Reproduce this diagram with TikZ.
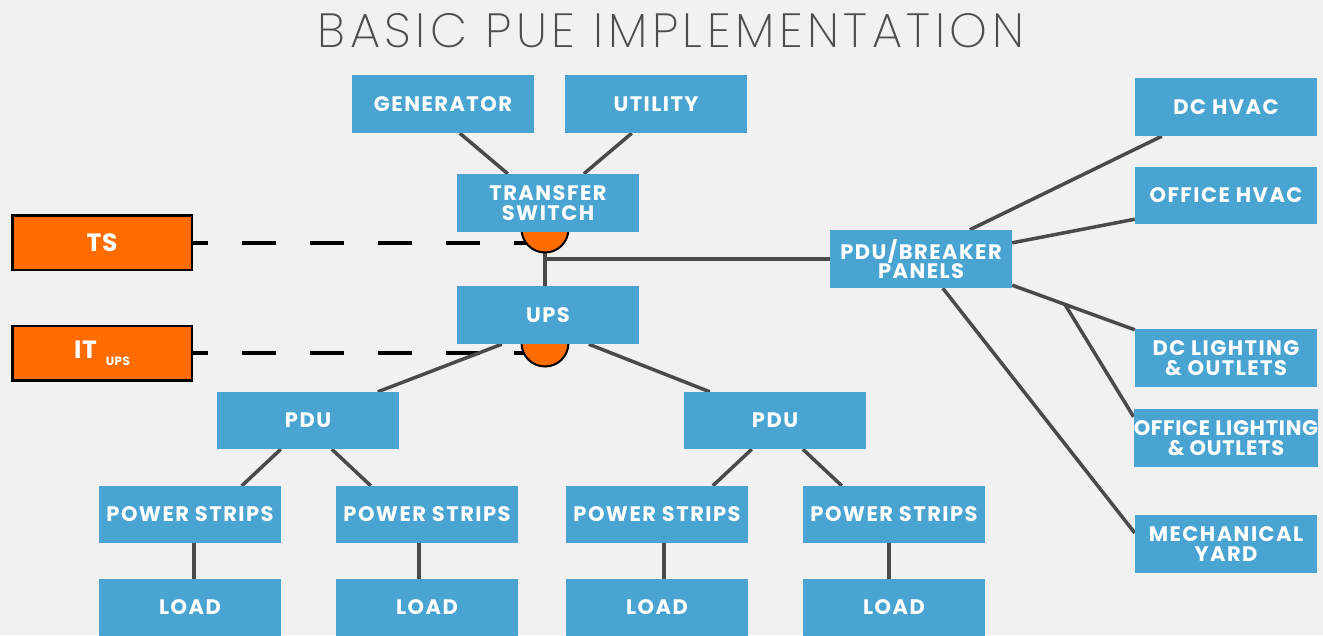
\documentclass[tikz,border=0pt]{standalone}
\usepackage{fontspec}
\setmainfont{Poppins}
\newfontfamily\titlefont{Poppins ExtraLight}
\usetikzlibrary{calc}
\definecolor{bgc}{HTML}{F1F1F1}
\definecolor{boxblue}{HTML}{4AA4D1}
\definecolor{tsorange}{HTML}{FF6D00}
\definecolor{linegray}{HTML}{4A4A4A}
\definecolor{titlegray}{HTML}{4D4D4D}
\pgfdeclarelayer{bg}
\pgfdeclarelayer{lines}
\pgfsetlayers{bg,lines,main}
\tikzset{
  bluebox/.style={fill=boxblue, text=white, minimum width=182pt, minimum height=58pt,
    inner sep=0pt, align=center, font=\fontsize{21}{19.5}\selectfont\bfseries\addfontfeatures{LetterSpace=7}},
  orangebox/.style={fill=tsorange, draw=black, line width=2.5pt, text=white,
    minimum width=179.5pt, minimum height=54.5pt, inner sep=0pt, align=center,
    font=\fontsize{25}{25}\selectfont\bfseries\addfontfeatures{LetterSpace=3}},
  knob/.style={circle, fill=tsorange, draw=black, line width=2pt, minimum size=47pt, inner sep=0pt},
  wire/.style={draw=linegray, line width=3.5pt},
  sense/.style={draw=black, line width=4pt, dash pattern=on 34pt off 34pt, dash phase=19pt},
}
\begin{document}
\begin{tikzpicture}[x=1pt,y=-1pt]
\begin{pgfonlayer}{bg}
\fill[bgc] (0,0) rectangle (1323,635);
\end{pgfonlayer}
\useasboundingbox (0,0) rectangle (1323,635);

\node[text=titlegray, font=\titlefont\fontsize{48}{48}\selectfont\addfontfeatures{LetterSpace=9.5}] (title) at (671,31) {BASIC PUE IMPLEMENTATION};

% knobs (behind boxes)
\node[knob] (tsc) at (545,229) {};
\node[knob] (itc) at (545,343) {};

% boxes
\node[bluebox] (gen) at (443,104) {GENERATOR};
\node[bluebox] (util) at (656,104) {UTILITY};
\node[bluebox] (xfer) at (548,203) {TRANSFER\\SWITCH};
\node[bluebox] (ups) at (548,315) {UPS};
\node[bluebox] (pb) at (921,259) {PDU/BREAKER\\PANELS};
\node[bluebox] (dchvac) at (1226,107) {DC HVAC};
\node[bluebox, minimum height=57pt] (ofhvac) at (1226,195.5) {OFFICE HVAC};
\node[bluebox] (dclight) at (1226,358) {DC LIGHTING\\\&\ OUTLETS};
\node[bluebox, font=\fontsize{21}{19.5}\selectfont\bfseries\addfontfeatures{LetterSpace=3.3}] (oflight) at (1226,438) {OFFICE LIGHTING\\\&\ OUTLETS};
\node[bluebox] (mech) at (1226,544) {MECHANICAL\\YARD};
\node[bluebox, minimum height=57pt] (pdua) at (308,420.5) {PDU};
\node[bluebox, minimum height=57pt] (pdub) at (775,420.5) {PDU};
\node[bluebox, minimum height=57pt] (psa) at (190,514.5) {POWER STRIPS};
\node[bluebox, minimum height=57pt] (psb) at (427,514.5) {POWER STRIPS};
\node[bluebox, minimum height=57pt] (psc) at (657,514.5) {POWER STRIPS};
\node[bluebox, minimum height=57pt] (psd) at (894,514.5) {POWER STRIPS};
\node[bluebox, minimum height=57pt] (lda) at (190,607.5) {LOAD};
\node[bluebox, minimum height=57pt] (ldb) at (427,607.5) {LOAD};
\node[bluebox, minimum height=57pt] (ldc) at (657,607.5) {LOAD};
\node[bluebox, minimum height=57pt] (ldd) at (894,607.5) {LOAD};

\node[orangebox] (tsbox) at (102,242.5) {TS};
\node[orangebox] (itbox) at (102,353) {IT\hspace{9pt}\raisebox{-7pt}{\fontsize{12}{12}\selectfont UPS}};

\coordinate (J) at ($($(pb.south east)+(0,-3)$)!0.43!($(dclight.north west)+(0,1)$)$);

\begin{pgfonlayer}{lines}
% sensing lines
\draw[sense] (tsbox.east) -- (tsbox.east -| tsc.center);
\draw[sense] (itbox.east) -- (itbox.east -| itc.center);
% trunk
\draw[wire] (xfer.south -| tsc.center) -- (ups.north -| tsc.center);
\draw[wire] (pb.west -| tsc.center) -- (pb.west);
% sources
\draw[wire] ($(gen.south west)+(108,0)$) -- ($(xfer.north west)+(51,0)$);
\draw[wire] ($(util.south west)+(67,0)$) -- ($(xfer.north west)+(127,0)$);
% distribution
\draw[wire] ($(ups.south west)+(45,0)$) -- ($(pdua.north west)+(161,0)$);
\draw[wire] ($(ups.south west)+(132,0)$) -- ($(pdub.north west)+(26,0)$);
\draw[wire] ($(pdua.south west)+(64,0)$) -- ($(psa.north west)+(143,0)$);
\draw[wire] ($(pdua.south west)+(115,0)$) -- ($(psb.north west)+(35,0)$);
\draw[wire] ($(pdub.south west)+(68,0)$) -- ($(psc.north west)+(147,0)$);
\draw[wire] ($(pdub.south west)+(119,0)$) -- ($(psd.north west)+(39,0)$);
\draw[wire] ($(psa.south west)+(95,0)$) -- ($(lda.north west)+(95,0)$);
\draw[wire] ($(psb.south west)+(83,0)$) -- ($(ldb.north west)+(83,0)$);
\draw[wire] ($(psc.south west)+(98,0)$) -- ($(ldc.north west)+(98,0)$);
\draw[wire] ($(psd.south west)+(86,0)$) -- ($(ldd.north west)+(86,0)$);
% facility
\draw[wire] ($(pb.north west)+(140,0)$) -- ($(dchvac.south west)+(27,0)$);
\draw[wire] ($(pb.north east)+(0,13)$) -- ($(ofhvac.south west)+(0,-5)$);
\draw[wire] ($(pb.south east)+(0,-3)$) -- (J) -- ($(dclight.north west)+(0,1)$);
\draw[wire] (J) -- ($(oflight.north west)+(0,8)$);
\draw[wire] ($(pb.south west)+(113,0)$) -- ($(mech.west)+(0,-11)$);
\end{pgfonlayer}
\end{tikzpicture}
\end{document}
